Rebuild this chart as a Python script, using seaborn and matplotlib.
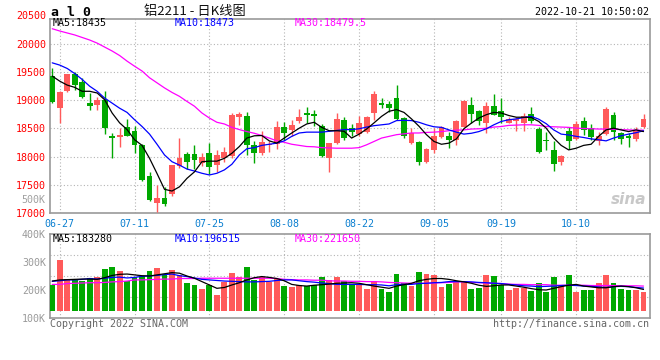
import numpy as np
import pandas as pd
import matplotlib
matplotlib.use('Agg')
import matplotlib.pyplot as plt
import matplotlib.transforms as mtransforms
import seaborn as sns

# 铝2211 日K 数据 (从图上读取, 2022-06-24 .. 2022-10-21, 共80个交易日)
opens = [19440, 18860, 19170, 19460, 19330, 18950, 18910, 19010, 18370, 18340,
         18520, 18450, 18210, 17660, 17170, 17270, 17330, 17840, 18040, 18050,
         17880, 18060, 17850, 17970, 18020, 18700, 18730, 18200, 18060, 18200,
         18220, 18520, 18480, 18630, 18775, 18755, 18540, 17970, 18240, 18650,
         18500, 18400, 18435, 18775, 18950, 18935, 19040, 18690, 18240, 18260,
         17900, 18120, 18340, 18360, 18300, 18525, 18920, 18815, 18595, 18905,
         18815, 18594, 18640, 18605, 18755, 18495, 18300, 18120, 17900, 18460,
         18315, 18640, 18505, 18285, 18400, 18745, 18415, 18370, 18315, 18525]
closes = [18970, 19150, 19460, 19280, 19050, 18905, 19000, 18500, 18335, 18390,
          18370, 18200, 17590, 17230, 17270, 17160, 17850, 17970, 17910, 17940,
          18000, 17810, 18030, 18080, 18745, 18755, 18210, 18060, 18260, 18230,
          18520, 18420, 18570, 18700, 18745, 18725, 18010, 18240, 18670, 18330,
          18435, 18590, 18700, 19110, 18915, 18865, 18670, 18370, 18420, 17900,
          18140, 18360, 18525, 18300, 18625, 18995, 18755, 18625, 18905, 18745,
          18700, 18665, 18660, 18730, 18640, 18080, 18270, 17870, 18010, 18280,
          18585, 18475, 18345, 18370, 18850, 18445, 18315, 18330, 18480, 18665]
highs = [19580, 19160, 19470, 19500, 19400, 19130, 19060, 19160, 18420, 18510,
         18670, 18540, 18230, 17720, 17500, 17460, 17860, 18330, 18080, 18200,
         18070, 18240, 18120, 18180, 18770, 18790, 18790, 18270, 18460, 18270,
         18640, 18610, 18650, 18850, 18890, 18830, 18580, 18250, 18770, 18710,
         18580, 18730, 18730, 19160, 19040, 18980, 19280, 18700, 18510, 18280,
         18150, 18510, 18540, 18435, 18655, 19000, 19055, 18830, 18970, 19110,
         19040, 18700, 18710, 18775, 18880, 18525, 18435, 18270, 18030, 18535,
         18625, 18700, 18580, 18435, 18875, 18790, 18435, 18420, 18520, 18760]
lows = [18950, 18600, 19140, 19190, 19040, 18820, 18820, 18400, 17980, 18180,
        18360, 18070, 17570, 17210, 17020, 17120, 17310, 17790, 17780, 17780,
        17840, 17700, 17730, 17900, 17970, 18570, 18030, 17890, 18030, 18080,
        18140, 18300, 18360, 18600, 18600, 18540, 18000, 17730, 18230, 18300,
        18360, 18375, 18425, 18655, 18860, 18800, 18655, 18330, 18220, 17860,
        17880, 18060, 18330, 18160, 18200, 18520, 18595, 18565, 18420, 18740,
        18595, 18590, 18450, 18460, 18595, 18060, 18120, 17745, 17850, 18140,
        18300, 18385, 18300, 18210, 18390, 18300, 18220, 18180, 18270, 18505]
ma5 = [19430, 19340, 19270, 19230, 19160, 19160, 19130, 19010, 18775, 18600,
       18480, 18300, 18200, 17970, 17700, 17420, 17390, 17465, 17615, 17730,
       17910, 17920, 17920, 17970, 18060, 18180, 18330, 18370, 18375, 18280,
       18240, 18330, 18420, 18505, 18580, 18610, 18520, 18460, 18460, 18450,
       18330, 18400, 18490, 18600, 18715, 18805, 18835, 18785, 18670, 18540,
       18390, 18270, 18220, 18240, 18315, 18495, 18595, 18685, 18745, 18785,
       18775, 18730, 18700, 18700, 18695, 18625, 18505, 18330, 18200, 18120,
       18150, 18200, 18220, 18360, 18475, 18505, 18475, 18445, 18475, 18445]
ma10 = [19665, 19625, 19565, 19475, 19370, 19250, 19160, 19040, 18950, 18860,
        18785, 18655, 18535, 18400, 18220, 18030, 17910, 17850, 17780, 17745,
        17705, 17675, 17705, 17765, 17865, 18030, 18140, 18160, 18200, 18220,
        18240, 18280, 18360, 18420, 18435, 18435, 18435, 18450, 18465, 18480,
        18480, 18495, 18525, 18550, 18565, 18580, 18640, 18645, 18640, 18610,
        18565, 18530, 18520, 18475, 18435, 18400, 18415, 18445, 18495, 18565,
        18625, 18655, 18670, 18695, 18715, 18665, 18585, 18475, 18400, 18385,
        18360, 18340, 18315, 18300, 18280, 18330, 18370, 18400, 18425, 18460]
ma30 = [20270, 20230, 20195, 20160, 20115, 20070, 20015, 19945, 19875, 19795,
        19695, 19605, 19520, 19400, 19310, 19220, 19140, 19070, 18980, 18895,
        18775, 18685, 18610, 18580, 18520, 18480, 18445, 18415, 18375, 18330,
        18280, 18255, 18220, 18200, 18180, 18175, 18160, 18155, 18150, 18150,
        18150, 18160, 18210, 18270, 18330, 18360, 18390, 18405, 18420, 18420,
        18430, 18435, 18445, 18460, 18470, 18475, 18490, 18495, 18505, 18525,
        18535, 18555, 18560, 18565, 18565, 18555, 18535, 18530, 18525, 18520,
        18505, 18500, 18495, 18490, 18490, 18485, 18480, 18475, 18470, 18470]

# 成交量 (K)
volume = [218, 307, 238, 236, 232, 242, 245, 275, 282, 268,
          232, 245, 250, 268, 278, 252, 271, 253, 225, 218,
          204, 218, 182, 230, 261, 245, 282, 236, 248, 227,
          239, 214, 211, 218, 215, 218, 246, 236, 245, 231,
          218, 220, 204, 232, 204, 193, 257, 224, 214, 264,
          257, 252, 211, 221, 230, 230, 204, 207, 253, 250,
          218, 200, 207, 207, 196, 225, 193, 246, 217, 252,
          193, 200, 200, 225, 252, 225, 204, 200, 200, 193]
vol_ma5 = [232, 236, 237, 238, 239, 239, 238, 244, 252, 256,
           257, 254, 251, 250, 254, 258, 262, 260, 250, 242,
           230, 218, 206, 209, 218, 226, 236, 244, 248, 245,
           241, 233, 220, 216, 214, 217, 219, 221, 224, 225,
           226, 224, 219, 214, 210, 206, 214, 219, 224, 233,
           238, 241, 241, 238, 233, 229, 224, 217, 213, 215,
           218, 218, 214, 210, 205, 201, 200, 206, 212, 217,
           220, 214, 211, 208, 208, 212, 214, 212, 208, 202]
vol_ma10 = [231, 233, 236, 236, 238, 241, 239, 242, 245, 246,
            243, 245, 249, 250, 252, 255, 257, 251, 248, 243,
            238, 236, 234, 232, 231, 230, 229, 229, 230, 231,
            234, 236, 236, 233, 230, 228, 225, 223, 220, 220,
            220, 220, 219, 219, 218, 215, 219, 220, 220, 223,
            224, 226, 227, 230, 230, 230, 229, 227, 226, 224,
            223, 220, 218, 215, 214, 212, 213, 214, 216, 217,
            216, 214, 213, 211, 209, 212, 213, 212, 209, 207]
vol_ma30 = [220, 220, 223, 224, 225, 226, 226, 227, 229, 230,
            232, 236, 236, 237, 238, 239, 239, 241, 241, 241,
            242, 242, 242, 242, 242, 242, 242, 242, 242, 242,
            241, 238, 237, 236, 236, 235, 235, 233, 232, 232,
            231, 231, 230, 230, 229, 227, 226, 225, 224, 224,
            224, 225, 226, 227, 229, 229, 227, 226, 225, 224,
            223, 221, 220, 220, 219, 219, 219, 217, 217, 217,
            217, 217, 216, 216, 216, 216, 215, 215, 215, 214]

date_labels = ['06-27', '07-11', '07-25', '08-08', '08-22', '09-05', '09-19', '10-10']
date_index = [1, 11, 21, 31, 41, 51, 60, 70]
price_ticks = [17000, 17500, 18000, 18500, 19000, 19500, 20000]
vol_ticks = [100, 200, 300, 400]

df = pd.DataFrame({'open': opens, 'close': closes, 'high': highs, 'low': lows,
                   'ma5': ma5, 'ma10': ma10, 'ma30': ma30,
                   'vol': np.array(volume) * 1000, 'vma5': np.array(vol_ma5) * 1000,
                   'vma10': np.array(vol_ma10) * 1000, 'vma30': np.array(vol_ma30) * 1000})
df['i'] = np.arange(len(df))

RED = '#ff5a5a'
GREEN = '#00a800'
GRID = '#b4b4b4'
SPINE = '#9a9a9a'
TICKBLUE = '#0a7fd0'
VOL_BASE = 126000

sns.set_style('white')
plt.rcParams['font.family'] = ['DejaVu Sans Mono', 'Noto Sans CJK SC']
plt.rcParams['font.size'] = 7.2

fig = plt.figure(figsize=(6.6, 3.6), dpi=100)
W, H = 660, 360


def box(x0, y0, x1, y1):
    return [x0 / W, 1 - y1 / H, (x1 - x0) / W, (y1 - y0) / H]


ax = fig.add_axes(box(50, 19, 649.5, 213))
axv = fig.add_axes(box(50, 234, 649.5, 318))

up = df['close'] >= df['open']
colors = np.where(up, RED, GREEN)

# K线
ax.vlines(df['i'], df['low'], df['high'], colors=colors, lw=1, zorder=3)
body = (df['close'] - df['open']).abs().clip(lower=12)
ax.bar(df['i'], body, bottom=df[['open', 'close']].min(axis=1), width=0.78,
       color=colors, linewidth=0, zorder=4)

sns.lineplot(data=df, x='i', y='ma30', color='#ff00ff', lw=0.9, ax=ax, zorder=5)
sns.lineplot(data=df, x='i', y='ma10', color='#0000ff', lw=0.9, ax=ax, zorder=5)
sns.lineplot(data=df, x='i', y='ma5', color='black', lw=0.9, ax=ax, zorder=6)

ax.set_xlim(-0.3, 79.8)
ax.set_ylim(17000, 20443)
ax.set_yticks(price_ticks)
ax.set_yticklabels([str(t) for t in price_ticks], color='#ff0000')
ax.set_xticks(date_index)
ax.set_xticklabels(date_labels, color=TICKBLUE)
ax.set_xlabel('')
ax.set_ylabel('')
ax.tick_params(length=0, pad=3)
ax.tick_params(axis='x', pad=4)
ax.grid(True, color=GRID, lw=0.8, linestyle=(0, (1, 2)))
lab = mtransforms.blended_transform_factory(ax.transAxes, ax.transData)
ax.text(-0.007, 20500, '20500', color='#ff0000', ha='right', va='center', transform=lab)
ax.text(-0.007, 17235, '500K', color='#a0a0a0', ha='right', va='center', transform=lab)

# 成交量
axv.bar(df['i'], df['vol'] - VOL_BASE, bottom=VOL_BASE, width=0.78, color=colors,
        linewidth=0, zorder=3)
sns.lineplot(data=df, x='i', y='vma30', color='#ff00ff', lw=0.9, ax=axv, zorder=5)
sns.lineplot(data=df, x='i', y='vma10', color='#0000ff', lw=0.9, ax=axv, zorder=5)
sns.lineplot(data=df, x='i', y='vma5', color='black', lw=0.9, ax=axv, zorder=6)
axv.set_xlim(-0.3, 79.8)
axv.set_ylim(100000, 400000)
axv.set_yticks([t * 1000 for t in vol_ticks])
axv.set_yticklabels([f'{t}K' for t in vol_ticks], color='#9a9a9a')
axv.set_xticks(date_index)
axv.set_xticklabels([])
axv.set_xlabel('')
axv.set_ylabel('')
axv.tick_params(length=0, pad=3)
axv.grid(True, axis='x', color=GRID, lw=0.8, linestyle=(0, (1, 2)))
for f in (0.25, 0.5, 0.75):
    axv.plot([0, 1], [f, f], transform=axv.transAxes, color=GRID, lw=0.8,
             linestyle=(0, (1, 2)), zorder=1)

for a in (ax, axv):
    for s in a.spines.values():
        s.set_color(SPINE)
        s.set_linewidth(1.2)
    a.set_axisbelow(True)


def ftext(x, y, s, **kw):
    fig.text(x / W, 1 - y / H, s, va='center', **kw)


ftext(51, 12, 'a l 0', fontsize=9.5, fontweight='bold', color='black')
ftext(195, 11, '铝2211 - 日K线图', fontsize=9.5, ha='center', color='#111111',
      family=['Noto Sans CJK SC'])
ftext(649, 12, '2022-10-21 10:50:02', ha='right', color='black')
ftext(53, 23, 'MA5:18435', color='black')
ftext(175, 23, 'MA10:18473', color='#0000ff')
ftext(295, 23, 'MA30:18479.5', color='#ff00ff')
ftext(53, 239, 'MA5:183280', color='black')
ftext(175, 239, 'MA10:196515', color='#0000ff')
ftext(295, 239, 'MA30:221650', color='#ff00ff')
ftext(50, 324, 'Copyright 2022 SINA.COM', color='#666666')
ftext(649, 324, 'http://finance.sina.com.cn', ha='right', color='#666666')
ftext(646, 200, 'sina', ha='right', color='#c8c8c8', fontsize=11,
      fontweight='bold', style='italic', family=['DejaVu Sans'])

fig.savefig('out.png', dpi=100)
